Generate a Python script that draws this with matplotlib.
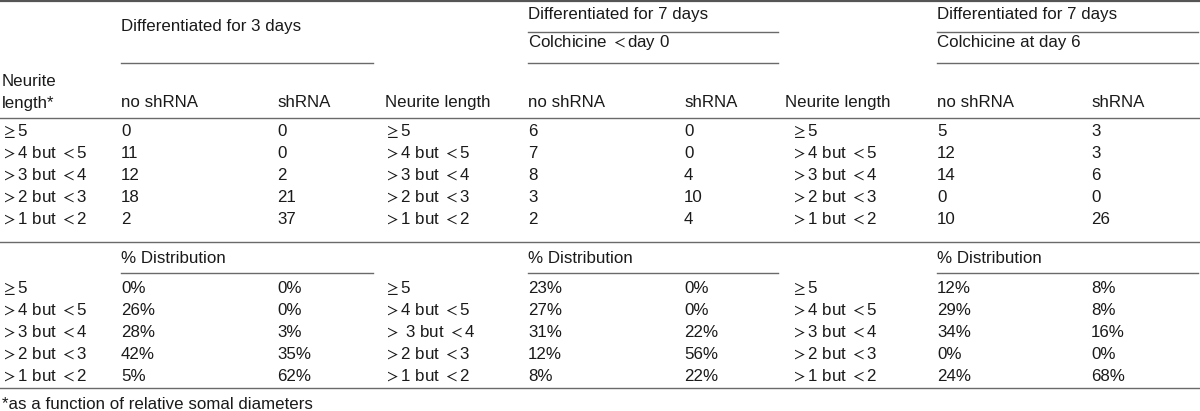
import matplotlib.pyplot as plt

plt.rcParams['font.family'] = ['Liberation Sans', 'DejaVu Sans']
plt.rcParams['mathtext.fontset'] = 'stixsans'

# table contents (relation signs set in math mode so they come out wide, as in the source)
row_labels = [r'${\geq}$5', r'${>}$4 but ${<}$5', r'${>}$3 but ${<}$4',
              r'${>}$2 but ${<}$3', r'${>}$1 but ${<}$2']
row_labels_pct2 = [r'${\geq}$5', r'${>}$4 but ${<}$5', r'${>}$ 3 but ${<}$4',
                   r'${>}$2 but ${<}$3', r'${>}$1 but ${<}$2']
group_titles = ['Differentiated for 3 days', 'Differentiated for 7 days', 'Differentiated for 7 days']
group_subtitles = [None, r'Colchicine ${<}$day 0', 'Colchicine at day 6']
col_headers = ['no shRNA', 'shRNA']

counts_no = [[0, 11, 12, 18, 2], [6, 7, 8, 3, 2], [5, 12, 14, 0, 10]]
counts_sh = [[0, 0, 2, 21, 37], [0, 0, 4, 10, 4], [3, 3, 6, 0, 26]]
pct_no = [[0, 26, 28, 42, 5], [23, 27, 31, 12, 8], [12, 29, 34, 0, 24]]
pct_sh = [[0, 0, 3, 35, 62], [0, 0, 22, 56, 22], [8, 8, 16, 0, 68]]

footnote = '*as a function of relative somal diameters'

# layout (pixels)
W, H = 1200, 411
label_x = [1, 384, 791]
no_x = [121, 528, 937]
sh_x = [277, 684, 1091]
line_end = [373, 778, 1198]
count_y = [131, 153, 175, 197, 219]
pct_y = [288, 310, 332, 354, 376]

txt = dict(fontsize=12.2, color='#1a1a1a', va='center', ha='left')
line_c = '#6a6a6a'

fig = plt.figure(figsize=(12, 4.11), dpi=100)
ax = fig.add_axes([0, 0, 1, 1])
ax.set_xlim(0, W)
ax.set_ylim(H, 0)
ax.axis('off')

# horizontal rules
ax.plot([0, W], [1.5, 1.5], color='#555555', lw=1.6)
for y in [118, 242, 388]:
    ax.plot([0, W], [y, y], color=line_c, lw=1.0)

for g in range(3):
    # group headings
    if group_subtitles[g] is None:
        ax.text(no_x[g], 27, group_titles[g], **txt)
        ax.plot([no_x[g], line_end[g]], [63, 63], color=line_c, lw=1.0)
    else:
        ax.text(no_x[g], 15, group_titles[g], **txt)
        ax.plot([no_x[g], line_end[g]], [32, 32], color=line_c, lw=1.0)
        ax.text(no_x[g], 43, group_subtitles[g], **txt)
        ax.plot([no_x[g], line_end[g]], [63, 63], color=line_c, lw=1.0)

    if g == 0:
        ax.text(2, 82, 'Neurite', **txt)
        ax.text(2, 103, 'length*', **txt)
    else:
        ax.text(385 if g == 1 else 785, 102, 'Neurite length', **txt)
    ax.text(no_x[g], 102, col_headers[0], **txt)
    ax.text(sh_x[g], 102, col_headers[1], **txt)

    # counts
    for i, y in enumerate(count_y):
        ax.text(label_x[g], y, row_labels[i], **txt)
        ax.text(no_x[g], y, str(counts_no[g][i]), **txt)
        ax.text(sh_x[g], y, str(counts_sh[g][i]), **txt)

    # % distribution
    ax.text(no_x[g], 258, '% Distribution', **txt)
    ax.plot([no_x[g], line_end[g]], [273, 273], color=line_c, lw=1.0)
    labels = row_labels_pct2 if g == 1 else row_labels
    for i, y in enumerate(pct_y):
        ax.text(label_x[g], y, labels[i], **txt)
        ax.text(no_x[g], y, f'{pct_no[g][i]}%', **txt)
        ax.text(sh_x[g], y, f'{pct_sh[g][i]}%', **txt)

ax.text(2, 404, footnote, **txt)

fig.savefig('out.png', dpi=100)
